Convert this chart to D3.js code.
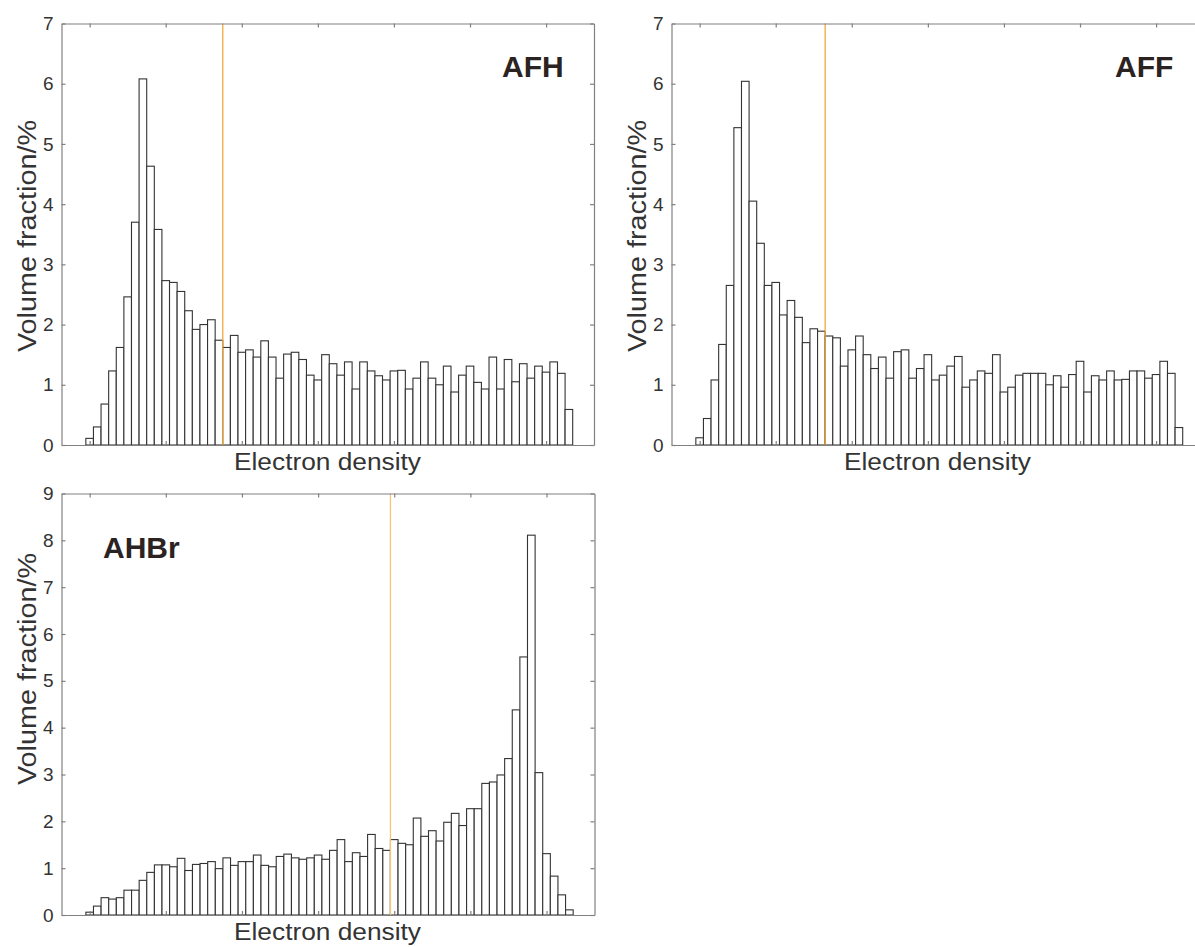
<!DOCTYPE html>
<html>
<head>
<meta charset="utf-8">
<script src="https://cdn.jsdelivr.net/npm/d3@7/dist/d3.min.js"></script>
<style>
  html, body { margin: 0; padding: 0; background: #fff; }
  svg { display: block; }
  text { font-family: "Liberation Sans", Arial, Helvetica, sans-serif; fill: #333; }
</style>
</head>
<body>
<svg id="chart" width="1195" height="947"></svg>
<script>
// Volume fraction (%) per electron-density bin, 64 bins per sample
const afhValues = [
  0.11, 0.30, 0.68, 1.23, 1.62, 2.46, 3.70, 6.08, 4.63, 3.58,
  2.73, 2.70, 2.55, 2.23, 1.92, 2.00, 2.08, 1.74, 1.62, 1.82,
  1.54, 1.58, 1.46, 1.73, 1.46, 1.11, 1.51, 1.54, 1.42, 1.16,
  1.08, 1.50, 1.35, 1.16, 1.38, 0.93, 1.38, 1.23, 1.15, 1.08,
  1.23, 1.24, 0.93, 1.11, 1.38, 1.11, 1.00, 1.31, 0.88, 1.16,
  1.31, 1.04, 0.93, 1.46, 0.93, 1.42, 1.05, 1.35, 1.11, 1.31,
  1.21, 1.38, 1.19, 0.59
];
const affValues = [
  0.12, 0.44, 1.08, 1.67, 2.65, 5.27, 6.04, 4.05, 3.35, 2.65,
  2.70, 2.16, 2.40, 2.12, 1.70, 1.93, 1.89, 1.81, 1.78, 1.31,
  1.58, 1.81, 1.50, 1.27, 1.46, 1.11, 1.55, 1.58, 1.11, 1.27,
  1.50, 1.08, 1.16, 1.31, 1.47, 0.96, 1.08, 1.23, 1.19, 1.50,
  0.88, 0.96, 1.16, 1.19, 1.19, 1.19, 1.00, 1.15, 0.96, 1.17,
  1.39, 0.88, 1.15, 1.08, 1.23, 1.08, 1.09, 1.23, 1.23, 1.11,
  1.17, 1.39, 1.19, 0.29
];
const ahbrValues = [
  0.06, 0.19, 0.37, 0.34, 0.37, 0.53, 0.53, 0.74, 0.91, 1.07,
  1.07, 1.03, 1.21, 0.95, 1.08, 1.10, 1.14, 0.99, 1.22, 1.06,
  1.14, 1.14, 1.28, 1.06, 1.03, 1.25, 1.30, 1.22, 1.19, 1.22,
  1.28, 1.19, 1.38, 1.61, 1.14, 1.33, 1.25, 1.72, 1.42, 1.38,
  1.61, 1.53, 1.50, 2.07, 1.68, 1.80, 1.58, 1.98, 2.17, 1.91,
  2.27, 2.27, 2.81, 2.84, 2.99, 3.34, 4.38, 5.51, 8.11, 3.04,
  1.31, 0.83, 0.43, 0.11
];

// Sample names and the density threshold (bin boundary) marked on each
const sampleNames = ["AFH", "AFF", "AHBr"];
const thresholds = [17.5, 16.5, 39.5];
const yMaxima = [7, 7, 9];

// Tick positions along the (unlabelled) electron density axis
const xTickValues = [0, 10, 20, 30, 40, 50, 60];
const xDomain = [-3.7, 66.3];

const xLabel = "Electron density";
const yLabel = "Volume fraction/%";

const seriesList = [afhValues, affValues, ahbrValues];

// Panel frames and annotation placement
const panels = [
  { left: 61.5, top: 23.5, right: 594, bottom: 445, yLabelMid: 236, name: { x: 502, y: 77 }, lineColor: "#f2a937" },
  { left: 671.5, top: 23.5, right: 1204, bottom: 445, yLabelMid: 236, name: { x: 1115, y: 77 }, lineColor: "#f2a937" },
  { left: 61.5, top: 493.5, right: 594.5, bottom: 915, yLabelMid: 669, name: { x: 103, y: 558 }, lineColor: "#f3c57c" }
];

const svg = d3.select("#chart");
svg.append("rect").attr("width", 1195).attr("height", 947).attr("fill", "#fff");

const axisColor = "#808080";
const tickLen = 4;

panels.forEach((p, k) => {
  const values = seriesList[k];
  const g = svg.append("g");

  const x = d3.scaleLinear().domain(xDomain).range([p.left, p.right]);
  const y = d3.scaleLinear().domain([0, yMaxima[k]]).range([p.bottom, p.top]);

  // histogram bars
  g.append("g").selectAll("rect")
    .data(values)
    .join("rect")
    .attr("x", (d, i) => x(i - 0.5))
    .attr("width", (d, i) => x(i + 0.5) - x(i - 0.5))
    .attr("y", d => y(d))
    .attr("height", d => y(0) - y(d))
    .attr("fill", "#fff")
    .attr("stroke", "#333")
    .attr("stroke-width", 1.1);

  // threshold line
  g.append("line")
    .attr("x1", x(thresholds[k])).attr("x2", x(thresholds[k]))
    .attr("y1", y(yMaxima[k])).attr("y2", y(0))
    .attr("stroke", p.lineColor)
    .attr("stroke-width", 1.3);

  // axes with inward ticks on all four sides
  const yTicks = d3.range(0, yMaxima[k] + 1);
  const left = g.append("g").attr("transform", `translate(${p.left},0)`)
    .call(d3.axisLeft(y).tickValues(yTicks).tickFormat(d3.format("d")).tickSizeInner(-tickLen).tickSizeOuter(0).tickPadding(8));
  const right = g.append("g").attr("transform", `translate(${p.right},0)`)
    .call(d3.axisRight(y).tickValues(yTicks).tickFormat("").tickSizeInner(-tickLen).tickSizeOuter(0));
  const bottom = g.append("g").attr("transform", `translate(0,${p.bottom})`)
    .call(d3.axisBottom(x).tickValues(xTickValues).tickFormat("").tickSizeInner(-tickLen).tickSizeOuter(0));
  const top = g.append("g").attr("transform", `translate(0,${p.top})`)
    .call(d3.axisTop(x).tickValues(xTickValues).tickFormat("").tickSizeInner(-tickLen).tickSizeOuter(0));

  [left, right, bottom, top].forEach(a => {
    a.select(".domain").attr("stroke", axisColor).attr("stroke-width", 1.2);
    a.selectAll(".tick line").attr("stroke", axisColor).attr("stroke-width", 1.2);
  });
  left.selectAll(".tick text")
    .attr("font-size", 19)
    .attr("fill", "#333")
    .style("font-family", "'Liberation Sans', Arial, sans-serif");

  // axis titles
  g.append("text")
    .attr("x", p.left + 266)
    .attr("y", p.bottom + 25)
    .attr("text-anchor", "middle")
    .attr("font-size", 23)
    .attr("textLength", 187)
    .attr("lengthAdjust", "spacingAndGlyphs")
    .text(xLabel);

  g.append("text")
    .attr("transform", `translate(${p.left - 26},${p.yLabelMid}) rotate(-90)`)
    .attr("text-anchor", "middle")
    .attr("font-size", 25)
    .attr("textLength", 232)
    .attr("lengthAdjust", "spacingAndGlyphs")
    .text(yLabel);

  // sample name
  g.append("text")
    .attr("x", p.name.x)
    .attr("y", p.name.y)
    .attr("font-size", 30)
    .attr("font-weight", "bold")
    .style("fill", "#2b2321")
    .text(sampleNames[k]);
});
</script>
</body>
</html>
